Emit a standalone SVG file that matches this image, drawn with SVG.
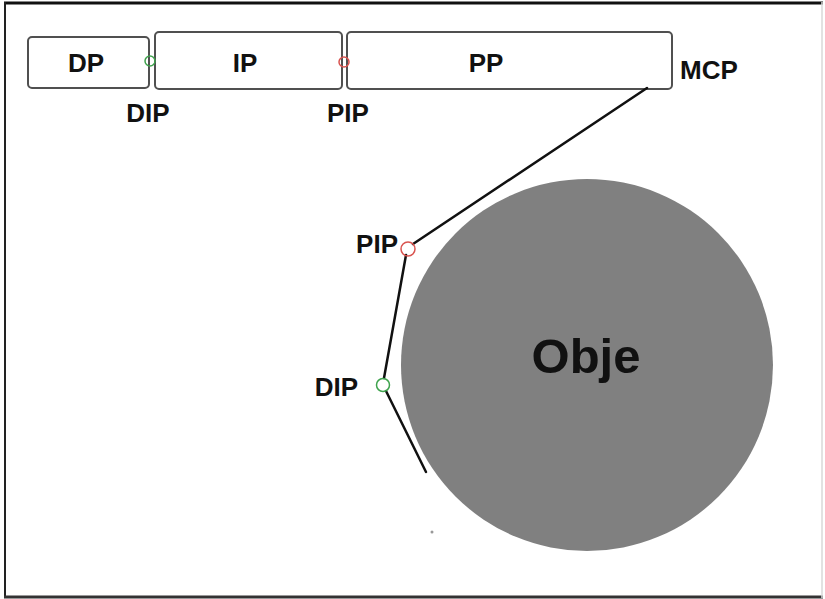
<svg xmlns="http://www.w3.org/2000/svg" width="825" height="599" viewBox="0 0 825 599">
  <style>
    .box { fill: #ffffff; stroke: #505050; stroke-width: 2; }
    .lbl { font-family: "Liberation Sans", Arial, sans-serif; font-weight: bold; font-size: 26px; fill: #111111; }
    .mid { text-anchor: middle; }
    .end { text-anchor: end; }
    .jd { fill: none; stroke: #3fa34d; stroke-width: 1.5; }
    .jp { fill: none; stroke: #d9534f; stroke-width: 1.5; }
    .bone { fill: none; stroke: #111111; stroke-width: 2.5; stroke-linecap: round; }
  </style>

  <!-- frame -->
  <rect x="0" y="0" width="825" height="599" fill="#ffffff"/>
  <g id="frame" fill="none">
    <line x1="4" y1="3" x2="823" y2="3" stroke="#111" stroke-width="3"/>
    <line x1="5" y1="2" x2="5" y2="598" stroke="#222" stroke-width="2"/>
    <line x1="4" y1="597" x2="823" y2="597" stroke="#333" stroke-width="3"/>
    <line x1="822" y1="2" x2="822" y2="598" stroke="#d8d8d8" stroke-width="1.5"/>
  </g>

  <!-- finger segments, straight -->
  <g id="dp">
    <rect class="box" x="28" y="37" width="121" height="51" rx="4"/>
    <text class="lbl mid" x="86" y="72">DP</text>
  </g>
  <g id="ip">
    <rect class="box" x="155" y="32" width="187" height="57" rx="4"/>
    <text class="lbl mid" x="245" y="72">IP</text>
  </g>
  <g id="pp">
    <rect class="box" x="347" y="32" width="325" height="57" rx="4"/>
    <text class="lbl mid" x="486" y="72">PP</text>
  </g>
  <g id="joint-dip-top">
    <circle class="jd" cx="150" cy="61" r="5"/>
    <text class="lbl mid" x="148" y="122">DIP</text>
  </g>
  <g id="joint-pip-top">
    <circle class="jp" cx="344" cy="62" r="5"/>
    <text class="lbl mid" x="348" y="122">PIP</text>
  </g>
  <g id="mcp">
    <text class="lbl" x="680" y="79">MCP</text>
  </g>

  <!-- grasped object -->
  <g id="object">
    <circle cx="587" cy="365" r="186" fill="#808080"/>
    <text x="586" y="373" text-anchor="middle" font-family="Liberation Sans, Arial, sans-serif" font-weight="bold" font-size="49" fill="#111111">Obje</text>
  </g>

  <!-- finger segments, wrapped -->
  <g id="connectors">
    <line class="bone" x1="647" y1="88" x2="413" y2="244"/>
    <line class="bone" x1="406" y1="255" x2="384" y2="378"/>
    <line class="bone" x1="386" y1="391" x2="426" y2="472"/>
  </g>
  <g id="joint-pip-wrap">
    <circle class="jp" cx="408" cy="249" r="7"/>
    <text class="lbl end" x="398" y="253">PIP</text>
  </g>
  <g id="joint-dip-wrap">
    <circle class="jd" cx="383" cy="385" r="6.5"/>
    <text class="lbl end" x="358" y="396">DIP</text>
  </g>

  <!-- stray speck -->
  <circle cx="432" cy="532" r="1.5" fill="#999999"/>
</svg>
